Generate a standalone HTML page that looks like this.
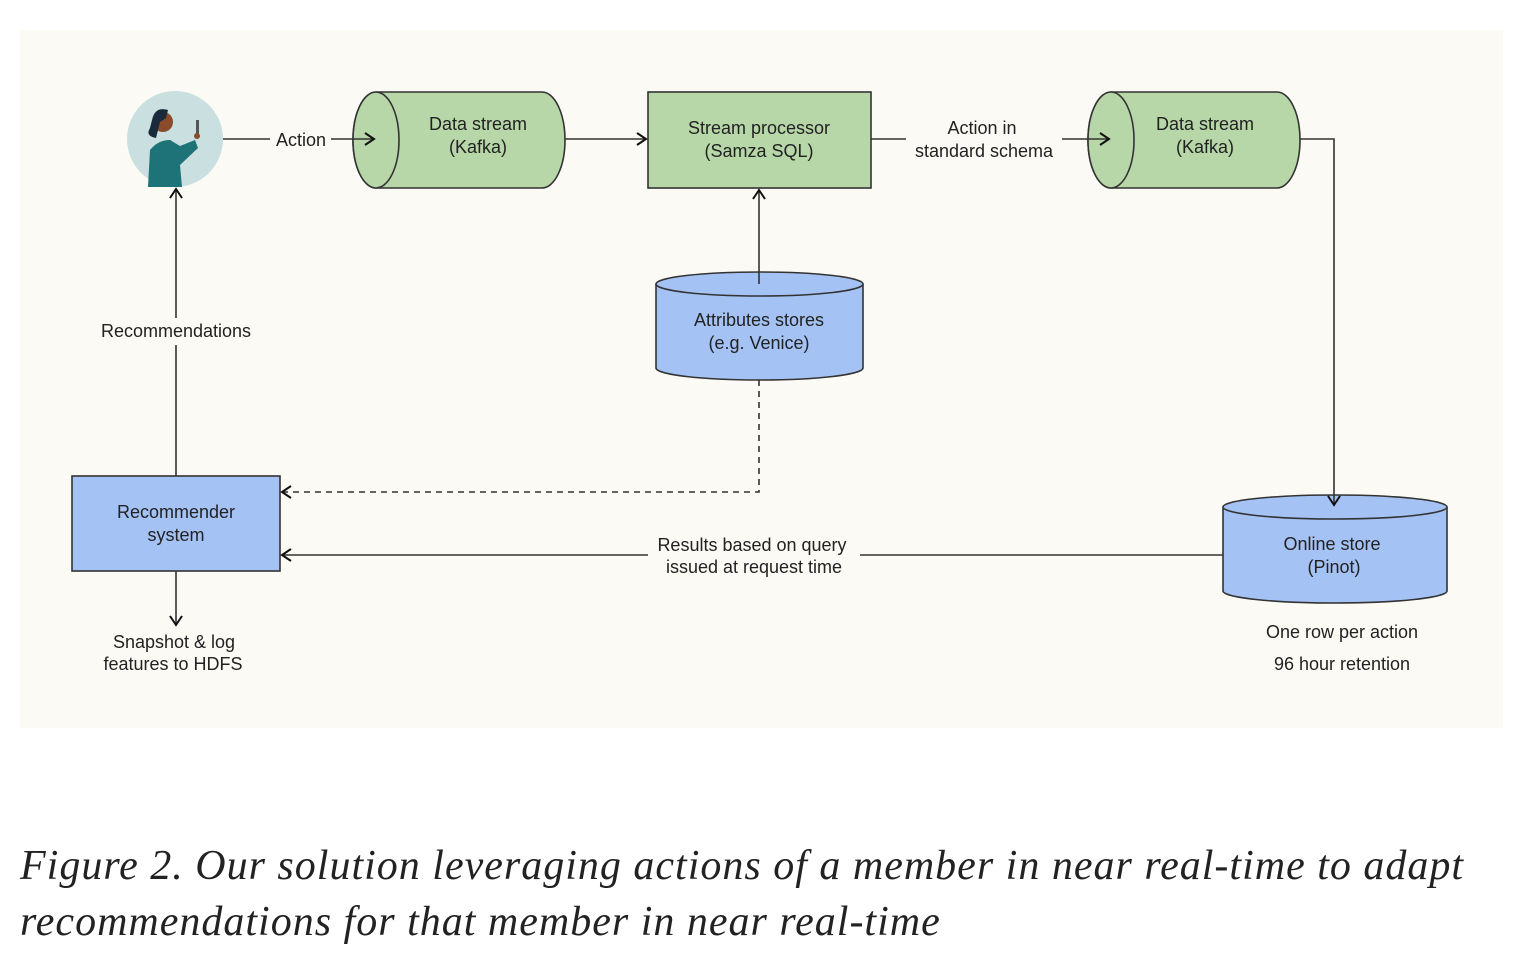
<!DOCTYPE html>
<html><head><style>
body{margin:0;background:#fff;width:1516px;height:956px;overflow:hidden;font-family:"Liberation Sans",sans-serif}
.cap{position:absolute;left:20px;top:838px;font-family:"Liberation Serif",serif;font-style:italic;font-size:42px;line-height:56px;color:#222;letter-spacing:1px;white-space:nowrap}
</style></head><body>
<svg width="1516" height="956" style="position:absolute;left:0;top:0" font-family="Liberation Sans, sans-serif" font-size="18" fill="#222">
<defs><marker id="a" markerWidth="14" markerHeight="14" refX="11" refY="7" orient="auto" markerUnits="userSpaceOnUse"><path d="M2,1 L11,7 L2,13" fill="none" stroke="#111" stroke-width="2"/></marker></defs>
<rect x="20" y="30" width="1483" height="698" fill="#fcfaf5"/>
<circle cx="175" cy="139" r="48" fill="#c9dfe0"/>
<path d="M148,187 L150,150 Q158,140 170,140 L180,146 L195,140 L198,148 L180,165 L182,187 Z" fill="#1e7378"/>
<circle cx="163" cy="122" r="10" fill="#8a4b2c"/>
<path d="M152,120 Q155,106 168,110 L166,118 L160,122 L156,138 Q145,136 150,128 Z" fill="#1b2a3a"/>
<rect x="196" y="120" width="3" height="14" fill="#555"/><circle cx="197" cy="136" r="3" fill="#8a4b2c"/>
<g stroke="#333" stroke-width="1.6" fill="#b7d7a8">
<path d="M376,92 L542,92 A23,48 0 0 1 542,188 L376,188 A23,48 0 0 1 376,92 Z"/>
<ellipse cx="376" cy="140" rx="23" ry="48"/>
<path d="M1111,92 L1277,92 A23,48 0 0 1 1277,188 L1111,188 A23,48 0 0 1 1111,92 Z"/>
<ellipse cx="1111" cy="140" rx="23" ry="48"/>
<rect x="648" y="92" width="223" height="96"/>
</g>
<g stroke="#333" stroke-width="1.6" fill="#a4c2f4">
<path d="M656,284 L656,368 A103.5,12 0 0 0 863,368 L863,284"/>
<ellipse cx="759.5" cy="284" rx="103.5" ry="12"/>
<path d="M1223,507 L1223,591 A112,12 0 0 0 1447,591 L1447,507"/>
<ellipse cx="1335" cy="507" rx="112" ry="12"/>
<rect x="72" y="476" width="208" height="95"/>
</g>
<g stroke="#333" stroke-width="1.6" fill="none">
<line x1="223" y1="139" x2="270" y2="139"/>
<line x1="331" y1="139" x2="374" y2="139" marker-end="url(#a)"/>
<line x1="565" y1="139" x2="646" y2="139" marker-end="url(#a)"/>
<line x1="871" y1="139" x2="906" y2="139"/>
<line x1="1062" y1="139" x2="1109" y2="139" marker-end="url(#a)"/>
<polyline points="1300,139 1334,139 1334,505" marker-end="url(#a)"/>
<line x1="759" y1="284" x2="759" y2="190" marker-end="url(#a)"/>
<polyline points="759,380 759,492 282,492" stroke-dasharray="6,5" marker-end="url(#a)"/>
<line x1="1223" y1="555" x2="860" y2="555"/>
<line x1="648" y1="555" x2="282" y2="555" marker-end="url(#a)"/>
<line x1="176" y1="476" x2="176" y2="345"/>
<line x1="176" y1="318" x2="176" y2="189" marker-end="url(#a)"/>
<line x1="176" y1="571" x2="176" y2="625" marker-end="url(#a)"/>
</g>
<g text-anchor="middle">
<text x="301" y="146">Action</text>
<text x="478" y="130">Data stream</text><text x="478" y="153">(Kafka)</text>
<text x="759" y="134">Stream processor</text><text x="759" y="157">(Samza SQL)</text>
<text x="982" y="134">Action in</text><text x="984" y="157">standard schema</text>
<text x="1205" y="130">Data stream</text><text x="1205" y="153">(Kafka)</text>
<text x="759" y="326">Attributes stores</text><text x="759" y="349">(e.g. Venice)</text>
<text x="176" y="337">Recommendations</text>
<text x="176" y="518">Recommender</text><text x="176" y="541">system</text>
<text x="752" y="551">Results based on query</text><text x="754" y="573">issued at request time</text>
<text x="1332" y="550">Online store</text><text x="1334" y="573">(Pinot)</text>
<text x="174" y="648">Snapshot &amp; log</text><text x="173" y="670">features to HDFS</text>
<text x="1342" y="638">One row per action</text><text x="1342" y="670">96 hour retention</text>
</g>
</svg>
<div class="cap">Figure 2. Our solution leveraging actions of a member in near real-time to adapt<br>recommendations for that member in near real-time</div>
</body></html>
